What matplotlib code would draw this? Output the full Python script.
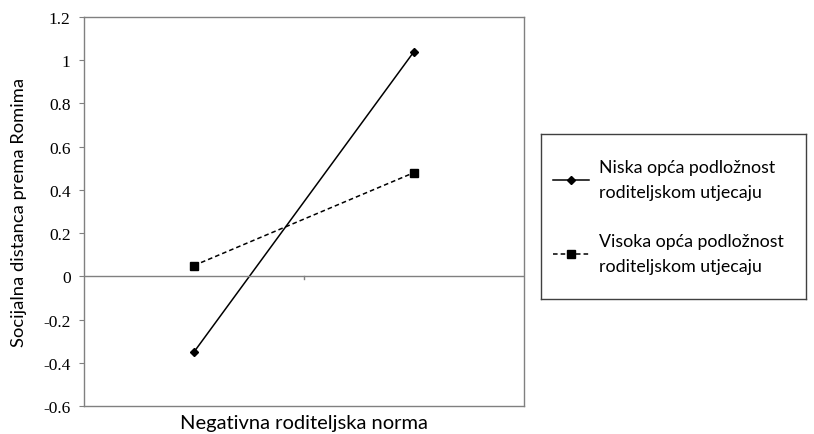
import matplotlib
matplotlib.use('Agg')
import matplotlib.pyplot as plt
from matplotlib.lines import Line2D

# podaci
x_pos = [0.5, 1.5]
niska = [-0.35, 1.04]
visoka = [0.05, 0.48]
labels = ['Niska opća podložnost\nroditeljskom utjecaju',
          'Visoka opća podložnost\nroditeljskom utjecaju']
y_ticks = [-0.6, -0.4, -0.2, 0, 0.2, 0.4, 0.6, 0.8, 1, 1.2]
y_ticklabels = ['-0.6', '-0.4', '-0.2', '0', '0.2', '0.4', '0.6', '0.8', '1', '1.2']

sans = ['Lato', 'DejaVu Sans']
serif = 'Liberation Serif'
grey = '#808080'

fig = plt.figure(figsize=(8.14, 4.35), dpi=100)
ax = fig.add_axes([84/814, 28/435, 440/814, 389/435])

ax.plot(x_pos, niska, color='black', lw=1.1, marker='D', ms=4, label=labels[0])
ax.plot(x_pos, visoka, color='black', lw=1.1, ls=(0, (3, 2)), marker='s', ms=5.5, label=labels[1])

# horizontalna os na nuli
ax.axhline(0, color=grey, lw=1)
ax.plot([1, 1], [0, -0.012], color=grey, lw=1, clip_on=False)

ax.set_xlim(0, 2)
ax.set_ylim(-0.6, 1.2)
ax.set_xticks([])
ax.set_yticks(y_ticks)
ax.set_yticklabels(y_ticklabels, fontfamily=serif, fontsize=12.5)
ax.tick_params(axis='y', length=3.6, color=grey, pad=6)
for s in ax.spines.values():
    s.set_color(grey)
    s.set_linewidth(1)

ax.set_ylabel('Socijalna distanca prema Romima', fontfamily=sans, fontsize=13.2)
ax.yaxis.set_label_coords(-0.13, 0.5)
ax.set_xlabel('Negativna roditeljska norma', fontfamily=sans, fontsize=14.5, labelpad=6)

# legenda u zasebnom okviru
lax = fig.add_axes([541/814, 135/435, 265/814, 165/435])
lax.set_xticks([])
lax.set_yticks([])
for s in lax.spines.values():
    s.set_color('#404040')
    s.set_linewidth(1)
handles = [Line2D([], [], color='black', lw=1.1, marker='D', ms=4),
           Line2D([], [], color='black', lw=1.1, ls=(0, (3, 2)), marker='s', ms=5.5)]
leg = lax.legend(handles, labels, loc='center left', frameon=False,
                 prop={'family': sans, 'size': 12.8}, handlelength=2.0,
                 labelspacing=1.9, borderaxespad=0.3, handletextpad=0.55)
for t in leg.get_texts():
    t.set_linespacing(1.65)

fig.savefig('out.png', dpi=100)
